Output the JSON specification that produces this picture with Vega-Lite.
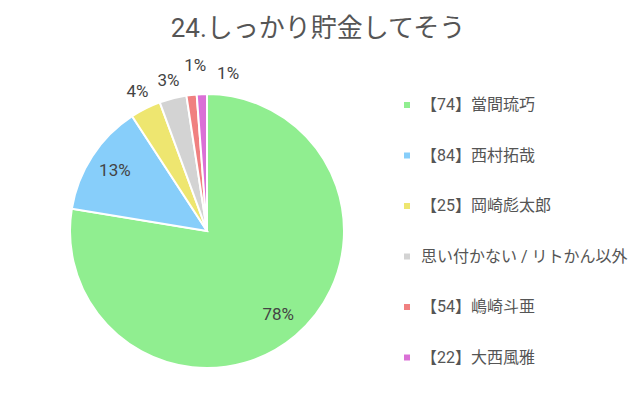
{
  "$schema": "https://vega.github.io/schema/vega-lite/v6.json",
  "width": 414,
  "height": 350,
  "autosize": {"type": "none"},
  "padding": {"top": 56, "left": 0, "right": 226, "bottom": 0},
  "background": "white",
  "title": {
    "text": "24.しっかり貯金してそう",
    "anchor": "middle",
    "frame": "group",
    "dx": 111,
    "offset": 14,
    "fontSize": 26,
    "fontWeight": "normal",
    "color": "#555555",
    "font": "Roboto, 'Noto Sans CJK JP', sans-serif"
  },
  "data": {
    "values": [
      {"name": "【74】當間琉巧", "value": 77.6, "label": "78%", "rank": 1},
      {"name": "【84】西村拓哉", "value": 13.2, "label": "13%", "rank": 2},
      {"name": "【25】岡崎彪太郎", "value": 3.6, "label": "4%", "rank": 3},
      {"name": "思い付かない / リトかん以外", "value": 3.2, "label": "3%", "rank": 4},
      {"name": "【54】嶋崎斗亜", "value": 1.2, "label": "1%", "rank": 5},
      {"name": "【22】大西風雅", "value": 1.2, "label": "1%", "rank": 6}
    ]
  },
  "encoding": {
    "theta": {"field": "value", "type": "quantitative", "stack": true},
    "order": {"field": "rank", "type": "quantitative"}
  },
  "layer": [
    {
      "mark": {"type": "arc", "outerRadius": 137, "stroke": "white", "strokeWidth": 2},
      "encoding": {
        "color": {
          "field": "name",
          "type": "nominal",
          "scale": {
            "domain": ["【74】當間琉巧", "【84】西村拓哉", "【25】岡崎彪太郎", "思い付かない / リトかん以外", "【54】嶋崎斗亜", "【22】大西風雅"],
            "range": ["#90EE90", "#87CEFA", "#EEE670", "#D3D3D3", "#F08080", "#DA70D6"]
          },
          "legend": {
            "orient": "none",
            "legendX": 399,
            "legendY": 41,
            "title": null,
            "symbolType": "square",
            "symbolSize": 36,
            "symbolStrokeWidth": 0,
            "labelOffset": 6,
            "labelFontSize": 16,
            "labelColor": "#555555",
            "labelFont": "Roboto, 'Noto Sans CJK JP', sans-serif",
            "rowPadding": 34.5,
            "labelLimit": 300
          }
        }
      }
    },
    {
      "mark": {"type": "text", "radius": 110, "fontSize": 17, "fill": "#444444", "font": "Roboto, 'Noto Sans CJK JP', sans-serif"},
      "encoding": {
        "text": {"field": "label"},
        "opacity": {"condition": {"test": "datum.rank <= 2", "value": 1}, "value": 0}
      }
    },
    {
      "mark": {"type": "text", "radius": 155, "fontSize": 17, "fill": "#444444", "font": "Roboto, 'Noto Sans CJK JP', sans-serif"},
      "encoding": {
        "text": {"field": "label"},
        "opacity": {"condition": {"test": "datum.rank == 3 || datum.rank == 4", "value": 1}, "value": 0}
      }
    },
    {
      "mark": {"type": "text", "radius": 166, "dx": 7, "fontSize": 17, "fill": "#444444", "font": "Roboto, 'Noto Sans CJK JP', sans-serif"},
      "encoding": {
        "text": {"field": "label"},
        "opacity": {"condition": {"test": "datum.rank == 5", "value": 1}, "value": 0}
      }
    },
    {
      "mark": {"type": "text", "radius": 157, "dx": 27, "fontSize": 17, "fill": "#444444", "font": "Roboto, 'Noto Sans CJK JP', sans-serif"},
      "encoding": {
        "text": {"field": "label"},
        "opacity": {"condition": {"test": "datum.rank == 6", "value": 1}, "value": 0}
      }
    }
  ],
  "config": {"view": {"stroke": null}}
}
